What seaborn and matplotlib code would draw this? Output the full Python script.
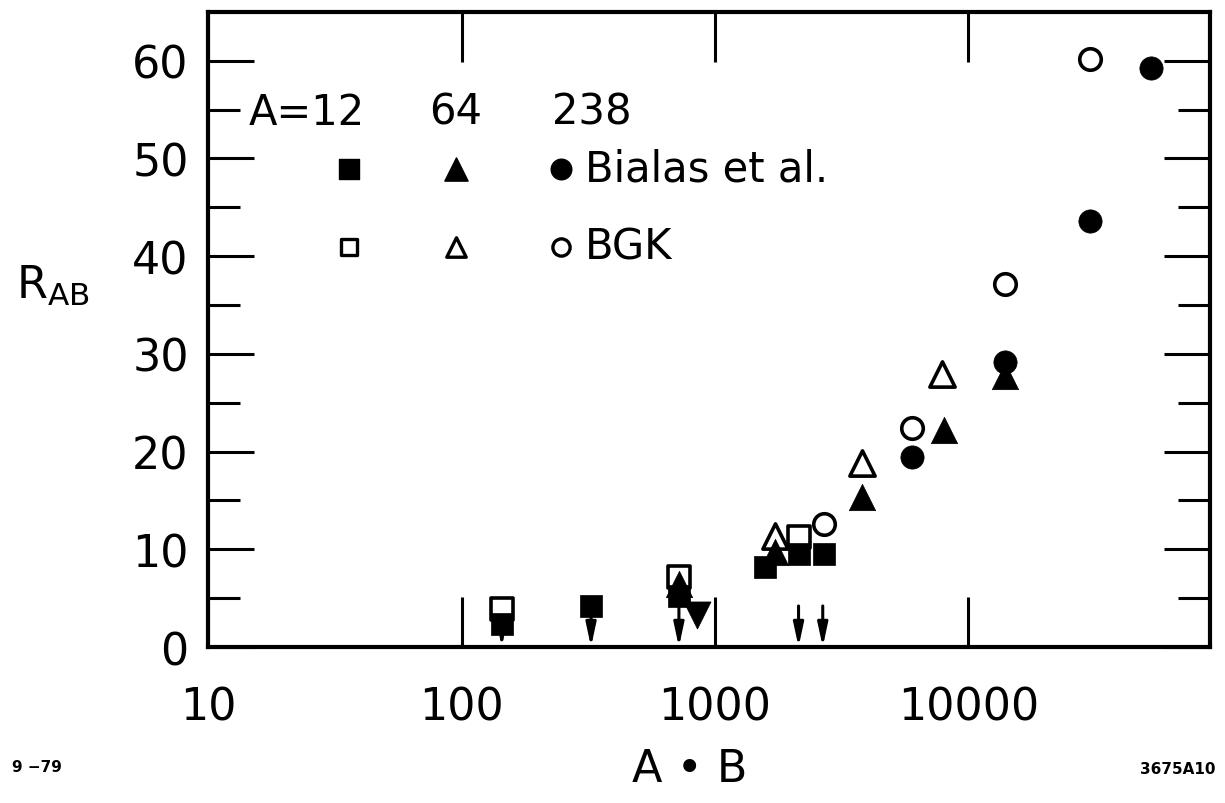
import numpy as np
import pandas as pd
import matplotlib
matplotlib.use("Agg")
import matplotlib.pyplot as plt
import seaborn as sns

# ---- data (A*B, R_AB) ----
# Bialas et al. (filled markers)
bialas_12_x = [144, 324, 720, 1570, 2150, 2700]
bialas_12_y = [2.4, 4.2, 5.2, 8.2, 9.5, 9.5]
bialas_64_x = [720, 1720, 3800, 7970, 13960]
bialas_64_y = [6.5, 9.7, 15.4, 22.2, 27.7]
bialas_238_x = [5970, 13960, 30100, 52700]
bialas_238_y = [19.4, 29.2, 43.6, 59.3]

# BGK (open markers)
bgk_12_x = [144, 720, 2150]
bgk_12_y = [3.9, 7.2, 11.3]
bgk_64_x = [1720, 3800, 7830]
bgk_64_y = [11.4, 18.8, 27.9]
bgk_238_x = [2700, 5970, 13960, 30100]
bgk_238_y = [12.6, 22.4, 37.2, 60.2]

# inverted filled triangle near A*B ~ 850
down_x = [850]
down_y = [3.3]

# upper-limit arrows (start value -> axis)
limit_x = [144, 324, 720, 2135, 2660]
limit_y = [2.4, 4.2, 5.2, 4.2, 4.2]

sns.set_style("ticks")
plt.rcParams["font.family"] = ["DejaVu Sans"]
plt.rcParams["text.color"] = "black"
plt.rcParams["axes.labelcolor"] = "black"
plt.rcParams["xtick.color"] = "black"
plt.rcParams["ytick.color"] = "black"

fig = plt.figure(figsize=(12.25, 8.04), dpi=100)
ax = fig.add_axes([0.170, 0.194, 0.818, 0.790])

open_sets = [
    (bgk_12_x, bgk_12_y, "s", 240),
    (bgk_64_x, bgk_64_y, "^", 330),
    (bgk_238_x, bgk_238_y, "o", 240),
]
filled_sets = [
    (bialas_12_x, bialas_12_y, "s", 260),
    (bialas_64_x, bialas_64_y, "^", 360),
    (bialas_238_x, bialas_238_y, "o", 280),
    (down_x, down_y, "v", 380),
]

for xs, ys, mk, sz in open_sets:
    df = pd.DataFrame({"AB": xs, "R": ys})
    sns.scatterplot(data=df, x="AB", y="R", ax=ax, marker=mk, s=sz,
                    color="black", facecolor="white", edgecolor="black",
                    linewidth=2.6, zorder=3)

for xs, ys, mk, sz in filled_sets:
    df = pd.DataFrame({"AB": xs, "R": ys})
    sns.scatterplot(data=df, x="AB", y="R", ax=ax, marker=mk, s=sz,
                    color="black", edgecolor="black", linewidth=0.5, zorder=4)

# arrows for upper limits
for lx, ly in zip(limit_x, limit_y):
    ax.annotate("", xy=(lx, 0), xytext=(lx, ly),
                arrowprops=dict(arrowstyle="-|>,head_length=1.4,head_width=0.3",
                                color="black", lw=2.2, shrinkA=0, shrinkB=0),
                zorder=5)

ax.set_xscale("log")
ax.set_xlim(10.5, 90000)
ax.set_ylim(0, 65)

ax.set_xticks([10, 100, 1000, 10000])
ax.set_xticklabels(["10", "100", "1000", "10000"])
ax.xaxis.set_minor_locator(matplotlib.ticker.NullLocator())
ax.set_yticks(np.arange(0, 61, 10))
ax.set_yticks(np.arange(5, 65, 10), minor=True)

ax.tick_params(axis="x", which="major", direction="in", top=True, bottom=True,
               length=36, width=2.2, labelsize=32, pad=28)
ax.tick_params(axis="y", which="major", direction="in", left=True, right=True,
               length=33, width=2.2, labelsize=32, pad=14)
ax.tick_params(axis="y", which="minor", direction="in", left=True, right=True,
               length=23, width=2.2)

for sp in ax.spines.values():
    sp.set_visible(True)
    sp.set_linewidth(3)
    sp.set_color("black")

ax.set_xlabel("A • B", fontsize=32, va="center")
ax.xaxis.set_label_coords(0.48, -0.192)
ax.set_ylabel(r"R$_{\mathregular{AB}}$", fontsize=32, rotation=0, va="center")
ax.yaxis.set_label_coords(-0.155, 0.57)

# key drawn inside the axes
tr = ax.transAxes
ax.text(0.040, 0.843, "A=12", transform=tr, fontsize=30, va="center", ha="left")
ax.text(0.247, 0.843, "64", transform=tr, fontsize=30, va="center", ha="center")
ax.text(0.383, 0.843, "238", transform=tr, fontsize=30, va="center", ha="center")
key_cols = [0.140, 0.247, 0.352]
key_marks = ["s", "^", "o"]
key_sizes = [200, 280, 220]
for kx, km, ks in zip(key_cols, key_marks, key_sizes):
    ax.scatter([kx], [0.753], transform=tr, marker=km, s=ks, color="black",
               clip_on=False, zorder=4)
    ax.scatter([kx], [0.630], transform=tr, marker=km, s=ks * 0.7,
               facecolor="white", edgecolor="black", linewidth=2.4,
               clip_on=False, zorder=4)
ax.text(0.376, 0.753, "Bialas et al.", transform=tr, fontsize=30, va="center", ha="left")
ax.text(0.376, 0.630, "BGK", transform=tr, fontsize=30, va="center", ha="left")

fig.text(0.010, 0.040, "9 −79", fontsize=11, fontweight="bold")
fig.text(0.992, 0.037, "3675A10", fontsize=11, fontweight="bold", ha="right")

plt.savefig("out.png", dpi=100)
plt.close()
